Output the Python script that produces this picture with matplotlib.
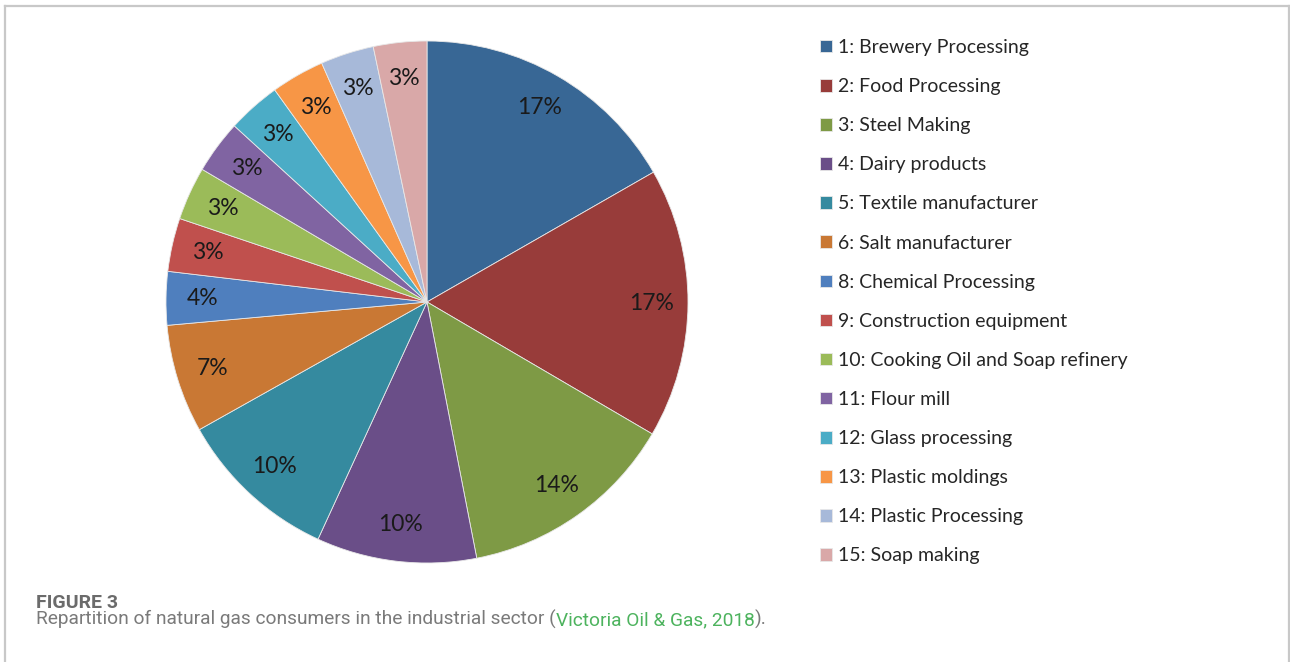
import matplotlib
matplotlib.use('Agg')
import matplotlib.pyplot as plt
from matplotlib.lines import Line2D
import numpy as np

# Data
categories = ['1: Brewery Processing', '2: Food Processing', '3: Steel Making',
              '4: Dairy products', '5: Textile manufacturer', '6: Salt manufacturer',
              '8: Chemical Processing', '9: Construction equipment',
              '10: Cooking Oil and Soap refinery', '11: Flour mill',
              '12: Glass processing', '13: Plastic moldings',
              '14: Plastic Processing', '15: Soap making']
shares = [16.7, 16.7, 13.5, 9.9, 10.0, 6.7, 3.3, 3.3, 3.3, 3.3, 3.3, 3.3, 3.3, 3.3]
pct_labels = ['17%', '17%', '14%', '10%', '10%', '7%', '4%',
              '3%', '3%', '3%', '3%', '3%', '3%', '3%']
colors = ['#386795', '#983c3a', '#7e9a45', '#6a4e88', '#358a9f', '#c97834',
          '#4f7fbe', '#c0504d', '#9bbb59', '#8064a2', '#4bacc6', '#f79646',
          '#a7b9d9', '#d9a8a8']

W, H = 1290, 662
fig = plt.figure(figsize=(W / 100, H / 100), dpi=100)

# Pie: centre (427, 302) px, radius 261 px
cx, cy, r = 427, 302, 261
ax = fig.add_axes([(cx - r) / W, (H - cy - r) / H, 2 * r / W, 2 * r / H])
wedges, _ = ax.pie(shares, colors=colors, startangle=90, counterclock=False,
                   wedgeprops=dict(edgecolor='#e8e8e8', linewidth=0.6))
ax.set_xlim(-1, 1)
ax.set_ylim(-1, 1)
ax.set_aspect('equal')
ax.axis('off')

# percentage labels inside each slice
for w, lab in zip(wedges, pct_labels):
    ang = np.deg2rad((w.theta1 + w.theta2) / 2)
    ax.text(0.86 * np.cos(ang), 0.86 * np.sin(ang), lab, ha='center', va='center',
            fontsize=16.5, family='Lato', color='#1a1a1a')

# Legend
leg = fig.legend(wedges, categories, loc='upper left',
                 bbox_to_anchor=(820 / W, 1 - 39 / H), frameon=False,
                 prop=dict(family='Lato', size=14), labelcolor='#262626',
                 handlelength=0.62, handleheight=0.62, handletextpad=0.31,
                 labelspacing=1.137, borderaxespad=0, borderpad=0)

# Border of the figure panel
border = '#c8c8c8'
fig.add_artist(Line2D([4.5 / W, 1288.5 / W], [1 - 5.5 / H, 1 - 5.5 / H],
                      transform=fig.transFigure, color=border, lw=1.6))
fig.add_artist(Line2D([4.5 / W, 4.5 / W], [0, 1 - 5.5 / H],
                      transform=fig.transFigure, color=border, lw=1.6))
fig.add_artist(Line2D([1288.5 / W, 1288.5 / W], [0, 1 - 5.5 / H],
                      transform=fig.transFigure, color=border, lw=1.6))

# Caption
fig.text(36 / W, 1 - 608 / H, 'FIGURE 3', fontsize=14, family='Roboto',
         fontweight='bold', color='#6b6b6b', va='baseline')
parts = [('Repartition of natural gas consumers in the industrial sector (', '#7a7a7a'),
         ('Victoria Oil & Gas, 2018', '#4db35e'),
         (').', '#7a7a7a')]
renderer = fig.canvas.get_renderer()
x = 36
for txt, col in parts:
    t = fig.text(x / W, 1 - 625 / H, txt, fontsize=13.8, family='Roboto',
                 color=col, va='baseline')
    x += t.get_window_extent(renderer).width

fig.savefig('out.png', dpi=100)
